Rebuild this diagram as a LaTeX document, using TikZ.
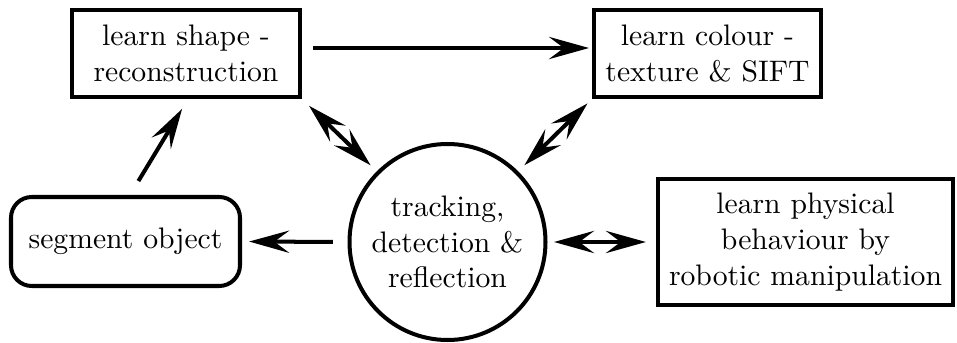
\documentclass[tikz,border=0pt]{standalone}
\usetikzlibrary{arrows.meta}
\tikzset{
  every node/.style={align=center, line width=1.35pt, inner sep=0pt},
  stepbox/.style={draw, rectangle},
  roundbox/.style={draw, rectangle, rounded corners=7pt},
  hub/.style={draw, circle},
  tip/.tip={Stealth[length=13.5pt, width=7.5pt, inset=5pt]},
  arr/.style={line width=1.35pt, -tip},
  darr/.style={line width=1.35pt, tip-tip},
}
\begin{document}
\begin{tikzpicture}[x=0.337pt, y=-0.337pt]
\useasboundingbox (0,0) rectangle (957,343);

\node[stepbox, minimum width=228*0.337pt, minimum height=87*0.337pt] (shape) at (186,53.5)
  {learn shape -\\reconstruction};
\node[stepbox, minimum width=227*0.337pt, minimum height=87*0.337pt] (colour) at (707.5,53.5)
  {learn colour -\\texture \& SIFT};
\node[stepbox, minimum width=295*0.337pt, minimum height=126*0.337pt] (phys) at (805.5,242)
  {learn physical\\behaviour by\\robotic manipulation};
\node[roundbox, minimum width=229*0.337pt, minimum height=89*0.337pt] (segment) at (125.5,241.5)
  {segment object};
\node[hub, minimum size=196*0.337pt] (circ) at (447.5,242)
  {tracking,\\detection \&\\reflection};

% connectors
\draw[arr, shorten <=3.7pt, shorten >=1pt] ([yshift=1.85pt]shape.east) -- ([yshift=1.85pt]colour.west);
\draw[arr, shorten <=5.5pt, shorten >=3.9pt] ([xshift=1.5pt]segment.north) -- ([xshift=0.7pt]shape.south);
\draw[darr, shorten <=3.3pt, shorten >=2.9pt] (shape.south east) -- (circ.135);
\draw[darr, shorten <=2.9pt, shorten >=2.1pt] (circ.45) -- (colour.south west);
\draw[arr, shorten <=4.9pt, shorten >=2.4pt] (circ.west) -- (segment.east);
\draw[darr, shorten <=2.2pt, shorten >=3.4pt] (circ.east) -- (phys.west);
\end{tikzpicture}
\end{document}
